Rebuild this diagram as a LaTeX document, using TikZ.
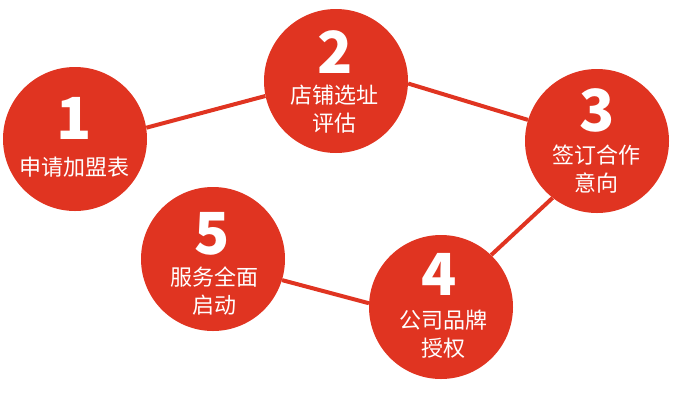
\documentclass[tikz,border=0pt]{standalone}
\usepackage{fontspec}
\newfontfamily\cjk{Noto Sans CJK SC}
\definecolor{mainred}{RGB}{224,52,33}
\tikzset{
  stepcircle/.style={circle, fill=mainred, minimum size=144pt, inner sep=0pt},
  link/.style={draw=mainred, line width=4pt},
  numtext/.style={text=white, font=\cjk\bfseries\fontsize{58}{58}\selectfont, inner sep=0pt},
  labtext/.style={text=white, font=\cjk\fontsize{22}{28}\selectfont, inner sep=0pt, align=center},
}
\begin{document}
\begin{tikzpicture}[x=1pt,y=-1pt]
\useasboundingbox (0,0) rectangle (680,400);
% circles
\node[stepcircle] (c1) at (75,139) {};
\node[stepcircle] (c2) at (336,81) {};
\node[stepcircle] (c3) at (597,141) {};
\node[stepcircle] (c4) at (441,307) {};
\node[stepcircle] (c5) at (213,259) {};
% connectors (drawn behind circles visually via boundary anchors)
\draw[link] (c1.9) -- (c2.192);
\draw[link] (c2.-2) -- (c3.163);
\draw[link] (c3.232) -- (c4.46);
\draw[link] (c4.177) -- (c5.-17);
% numbers
\node[numtext] (n1) at (74,118.5) {1};
\node[numtext] (n2) at (335,52.5) {2};
\node[numtext] (n3) at (597,110) {3};
\node[numtext] (n4) at (439,274) {4};
\node[numtext] (n5) at (212.5,233.5) {5};
% labels
\node[labtext] (t1) at (74.5,167) {申请加盟表};
\node[labtext] (t2) at (334,109) {店铺选址\\评估};
\node[labtext] (t3) at (596,169) {签订合作\\意向};
\node[labtext] (t4) at (443,334) {公司品牌\\授权};
\node[labtext] (t5) at (214,291) {服务全面\\启动};
\end{tikzpicture}
\end{document}
